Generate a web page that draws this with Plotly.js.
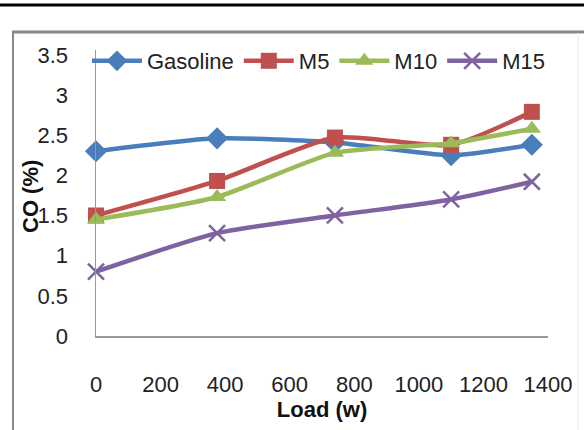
<!DOCTYPE html>
<html><head><meta charset="utf-8">
<script src="https://cdn.plot.ly/plotly-3.0.1.min.js"></script>
<style>html,body{margin:0;padding:0;background:#fff}#c{width:584px;height:430px}</style>
</head><body><div id="c"></div>
<script>
const loads = [0, 375, 740, 1100, 1350];
const gasoline = [2.30, 2.46, 2.41, 2.25, 2.38];
const m5 = [1.50, 1.93, 2.47, 2.38, 2.79];
const m10 = [1.45, 1.73, 2.28, 2.40, 2.58];
const m15 = [0.80, 1.28, 1.50, 1.70, 1.92];
const seriesNames = ['Gasoline', 'M5', 'M10', 'M15'];
const xTicks = [0, 200, 400, 600, 800, 1000, 1200, 1400];
const yTicks = [0, 0.5, 1, 1.5, 2, 2.5, 3, 3.5];

const colors = ['#4A7EBB', '#C0504D', '#9BBB59', '#7F63A1'];
const symbols = ['diamond', 'square', 'triangle-up', 'x-thin'];
const sizes = [17, 16, 16, 16];
const data = [gasoline, m5, m10, m15].map((ys, i) => ({
  x: loads, y: ys, name: seriesNames[i], type: 'scatter', mode: 'lines+markers',
  cliponaxis: false,
  line: {color: colors[i], width: 4.5, shape: 'spline', smoothing: 0.6},
  marker: {symbol: symbols[i], size: sizes[i], color: colors[i],
           line: {color: colors[i], width: i === 3 ? 2.5 : 0}}
}));

const font = 'Liberation Sans, Arial, sans-serif';
const px2x = px => (px - 96) / 452;
const py2y = py => (336 - py) / 286;

const layout = {
  width: 584, height: 430,
  margin: {l: 96, r: 36, t: 50, b: 94},
  paper_bgcolor: '#fff', plot_bgcolor: '#fff',
  font: {family: font, size: 22, color: '#222'},
  showlegend: true,
  legend: {orientation: 'h', x: -0.02, xanchor: 'left', y: py2y(40), yanchor: 'top',
           bgcolor: 'rgba(0,0,0,0)', font: {family: font, size: 22, color: '#222'},
           itemwidth: 50, tracegroupgap: 0},
  xaxis: {range: [0, 1400], tickvals: xTicks, ticktext: xTicks.map(String),
          showgrid: false, zeroline: false, showline: true, linecolor: '#999', linewidth: 1.5,
          ticks: '', ticklabelstandoff: 28,
          title: {text: '<b>Load (w)</b>', font: {family: font, size: 22, color: '#111'}, standoff: 4}},
  yaxis: {range: [0, 3.56], tickvals: yTicks, ticktext: yTicks.map(String),
          showgrid: false, zeroline: false, showline: true, linecolor: '#999', linewidth: 1.5,
          ticks: '', ticklabelstandoff: 22},
  annotations: [
    {text: '<b>CO (%)</b>', xref: 'paper', yref: 'paper', x: px2x(30), y: py2y(197),
     xanchor: 'center', yanchor: 'middle', textangle: -90, showarrow: false,
     font: {family: font, size: 22, color: '#111'}}
  ],
  shapes: [
    {type: 'line', xref: 'paper', yref: 'paper', x0: px2x(0), x1: px2x(584), y0: py2y(5), y1: py2y(5),
     line: {color: '#000', width: 3}},
    {type: 'line', xref: 'paper', yref: 'paper', x0: px2x(12), x1: px2x(584), y0: py2y(32), y1: py2y(32),
     line: {color: '#888', width: 3}},
    {type: 'line', xref: 'paper', yref: 'paper', x0: px2x(13), x1: px2x(13), y0: py2y(31), y1: py2y(440),
     line: {color: '#888', width: 2}},
    {type: 'line', xref: 'paper', yref: 'paper', x0: px2x(578), x1: px2x(578), y0: py2y(33), y1: py2y(440),
     line: {color: '#eee', width: 1.5}}
  ]
};
Plotly.newPlot('c', data, layout, {displayModeBar: false, staticPlot: true});
</script></body></html>
